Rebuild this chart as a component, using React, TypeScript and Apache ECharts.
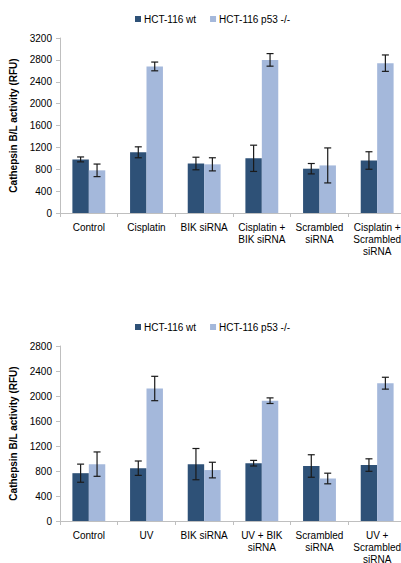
import React, { useEffect, useRef } from "react";
import * as echarts from "echarts";

const seriesNames = ["HCT-116 wt", "HCT-116 p53 -/-"];

const topCategories = ["Control", "Cisplatin", "BIK siRNA", "Cisplatin +\nBIK siRNA", "Scrambled\nsiRNA", "Cisplatin +\nScrambled\nsiRNA"];
const topWt = [980, 1110, 905, 1000, 810, 960];
const topWtErr = [45, 100, 115, 240, 95, 160];
const topP53 = [780, 2680, 890, 2800, 870, 2740];
const topP53Err = [115, 80, 120, 115, 320, 150];
const topTicks = { min: 0, max: 3200, interval: 400 };

const botCategories = ["Control", "UV", "BIK siRNA", "UV + BIK\nsiRNA", "Scrambled\nsiRNA", "UV +\nScrambled\nsiRNA"];
const botWt = [765, 845, 910, 925, 880, 895];
const botWtErr = [145, 115, 250, 45, 180, 100];
const botP53 = [910, 2120, 815, 1925, 680, 2205];
const botP53Err = [195, 195, 125, 45, 85, 95];
const botTicks = { min: 0, max: 2800, interval: 400 };

const DARK = "#2E5177";
const LIGHT = "#A4B8DB";
const CAT_GAP = 0.43;

export default function App() {
  const ref = useRef<HTMLDivElement>(null);
  useEffect(() => {
    if (!ref.current) return;
    const chart = echarts.init(ref.current, undefined, { renderer: "svg" });
    const font = "Liberation Sans, Arial, sans-serif";

    const errData = (vals: number[], errs: number[], s: number) =>
      vals.map((v, i) => [i, v - errs[i], v + errs[i], s]);

    const renderErr = (params: any, api: any) => {
      const i = api.value(0);
      const lo = api.value(1);
      const hi = api.value(2);
      const s = api.value(3);
      const center = api.coord([i, 0])[0];
      const catW = api.size([1, 0])[0];
      const barW = (catW * (1 - CAT_GAP)) / 2;
      const x = center + (s === 0 ? -barW / 2 : barW / 2);
      const yLo = api.coord([i, lo])[1];
      const yHi = api.coord([i, hi])[1];
      const cap = 3.5;
      const style = { stroke: "#1a1a1a", lineWidth: 1.2 };
      return {
        type: "group",
        children: [
          { type: "line", shape: { x1: x, y1: yLo, x2: x, y2: yHi }, style },
          { type: "line", shape: { x1: x - cap, y1: yLo, x2: x + cap, y2: yLo }, style },
          { type: "line", shape: { x1: x - cap, y1: yHi, x2: x + cap, y2: yHi }, style },
        ],
      };
    };

    const xAxisBase = (cats: string[], gridIndex: number) => ({
      type: "category",
      gridIndex,
      data: cats,
      axisLine: { lineStyle: { color: "#BFBFBF" } },
      axisTick: { show: true, alignWithLabel: false, length: 4, lineStyle: { color: "#BFBFBF" } },
      axisLabel: { interval: 0, color: "#000", fontSize: 10, fontFamily: font, lineHeight: 12, margin: 8 },
    });

    const yAxisBase = (t: { min: number; max: number; interval: number }, gridIndex: number) => ({
      type: "value",
      gridIndex,
      min: t.min,
      max: t.max,
      interval: t.interval,
      name: "Cathepsin B/L activity (RFU)",
      nameLocation: "middle",
      nameGap: 33,
      nameTextStyle: { fontSize: 10, fontWeight: "bold", fontFamily: font, color: "#000" },
      axisLine: { show: true, lineStyle: { color: "#BFBFBF" } },
      axisTick: { show: true, length: 4, lineStyle: { color: "#BFBFBF" } },
      axisLabel: { color: "#000", fontSize: 10, fontFamily: font, margin: 8, formatter: (v: number) => String(v) },
      splitLine: { show: false },
    });

    const legendBase = (top: number) => ({
      top,
      left: 130,
      itemWidth: 6,
      itemHeight: 6,
      itemGap: 14,
      icon: "rect",
      textStyle: { fontSize: 10, fontFamily: font, color: "#000", padding: [0, 0, 0, -2] },
      data: seriesNames,
    });

    const barSeries = (name: string, data: number[], color: string, idx: number) => ({
      type: "bar",
      name,
      data,
      xAxisIndex: idx,
      yAxisIndex: idx,
      barGap: "0%",
      barCategoryGap: CAT_GAP * 100 + "%",
      itemStyle: { color },
    });

    const errSeries = (data: number[][], idx: number) => ({
      type: "custom",
      xAxisIndex: idx,
      yAxisIndex: idx,
      data,
      renderItem: renderErr,
      z: 10,
      silent: true,
    });

    chart.setOption({
      animation: false,
      backgroundColor: "#fff",
      legend: [legendBase(9), legendBase(317)],
      grid: [
        { left: 60, top: 38, width: 346, height: 175, outerBoundsMode: "none", containLabel: false },
        { left: 60, top: 346, width: 346, height: 175, outerBoundsMode: "none", containLabel: false },
      ],
      xAxis: [xAxisBase(topCategories, 0), xAxisBase(botCategories, 1)],
      yAxis: [yAxisBase(topTicks, 0), yAxisBase(botTicks, 1)],
      series: [
        barSeries(seriesNames[0], topWt, DARK, 0),
        barSeries(seriesNames[1], topP53, LIGHT, 0),
        errSeries([...errData(topWt, topWtErr, 0), ...errData(topP53, topP53Err, 1)], 0),
        barSeries(seriesNames[0], botWt, DARK, 1),
        barSeries(seriesNames[1], botP53, LIGHT, 1),
        errSeries([...errData(botWt, botWtErr, 0), ...errData(botP53, botP53Err, 1)], 1),
      ],
    });
    return () => chart.dispose();
  }, []);

  return (
    <div
      ref={ref}
      style={{ position: "fixed", left: 0, top: 0, width: 401, height: 563, background: "#fff" }}
    />
  );
}
